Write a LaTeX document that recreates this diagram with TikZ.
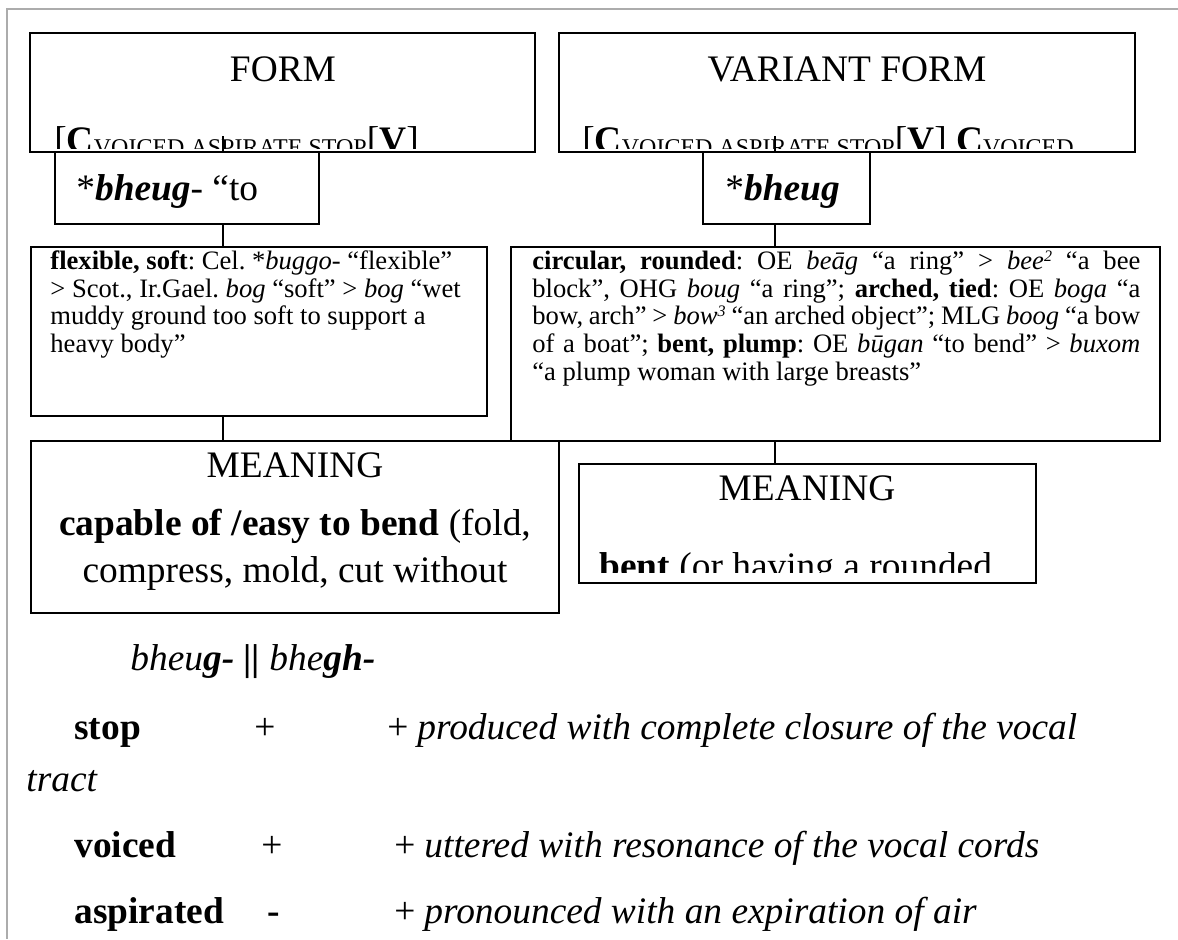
\documentclass[tikz,border=0pt]{standalone}
\usepackage{fontspec}
\setmainfont{Liberation Serif}
\usetikzlibrary{fit}
\frenchspacing
\newcommand{\bigtxt}{\fontsize{18.7}{21.5}\selectfont}
\newcommand{\smalltxt}{\fontsize{13.3}{13.85}\selectfont\lineskiplimit=-10pt}
\newcommand{\subcap}[1]{\raisebox{-1.5pt}{\fontsize{12}{14}\selectfont #1}}
\newcommand{\supnum}[1]{\raisebox{4pt}{\fontsize{8}{8}\selectfont #1}}
\tikzset{
  box/.style={draw, line width=1pt, inner sep=0pt},
  link/.style={line width=1pt},
  frameline/.style={draw=gray!65, line width=1pt},
  big/.style={font=\bigtxt, inner sep=0pt},
  small/.style={font=\smalltxt, inner sep=0pt, align=left}
}

\begin{document}
\begin{tikzpicture}[x=0.5pt, y=-0.5pt]
\useasboundingbox (0,0) rectangle (1178,939);
\draw[frameline] (1178,9) -- (7,9) -- (7,939);

% boxes
\node[box, fit={(30,33) (535,152)}] (form) {};
\node[box, fit={(559,33) (1135,152)}] (varform) {};
\node[box, fit={(55,152) (319,224)}] (rootL) {};
\node[box, fit={(703,152) (870,224)}] (rootR) {};
\node[box, fit={(31,247) (487,416)}] (glossL) {};
\node[box, fit={(511,247) (1160,441)}] (glossR) {};
\node[box, fit={(31,441) (559,613)}] (meanL) {};
\node[box, fit={(579,464) (1036,583)}] (meanR) {};

% texts in boxes
\node[big, anchor=base] (formtitle) at (283,81) {FORM};
\node[big, anchor=base] (vartitle) at (847,81) {VARIANT FORM};
\begin{scope}
\clip (30,33) rectangle (1135,148);
\node[big, anchor=base west] (formrule) at (54,152) {[\textbf{C}\subcap{VOICED ASPIRATE STOP}[\textbf{V}]};
\node[big, anchor=base west] (varrule) at (582,152) {[\textbf{C}\subcap{VOICED ASPIRATE STOP}[\textbf{V}] \textbf{C}\subcap{VOICED}};
\end{scope}
\node[big, anchor=base west] (rootLtext) at (76,200) {*\textbf{\textit{bheug}}- “to};
\node[big, anchor=base west] (rootRtext) at (725,200) {*\textbf{\textit{bheug}}};

\node[small, anchor=north west] (glossLtext) at (50,245) {\rule{0pt}{12pt}\textbf{flexible, soft}: Cel. *\textit{buggo}- “flexible”\\
> Scot., Ir.Gael. \textit{bog} “soft” > \textit{bog} “wet\\
muddy ground too soft to support a\\
heavy body”};
\node[small, anchor=north west] (glossRtext) at (532,245) {\rule{0pt}{12pt}\makebox[304pt][s]{\textbf{circular, rounded}: OE \textit{beāg} “a ring” > \textit{bee\supnum{2}} “a bee}\\
\makebox[304pt][s]{block”, OHG \textit{boug} “a ring”; \textbf{arched, tied}: OE \textit{boga} “a}\\
\makebox[304pt][s]{bow, arch” > \textit{bow\supnum{3}} “an arched object”; MLG \textit{boog} “a bow}\\
\makebox[304pt][s]{of a boat”; \textbf{bent, plump}: OE \textit{būgan} “to bend” > \textit{buxom}}\\
“a plump woman with large breasts”};

\node[big, anchor=base] (meanLtitle) at (295,477) {MEANING};
\node[big, anchor=base] (meanLtext) at (295,535) {\textbf{capable of /easy to bend} (fold,};
\node[big, anchor=base] (meanLmore) at (295,582) {compress, mold, cut without};
\node[big, anchor=base] (meanRtitle) at (807,500) {MEANING};
\begin{scope}
\clip (579,464) rectangle (1036,572);
\node[big, anchor=base west] (meanRtext) at (599,578) {\textbf{bent} (or having a rounded};
\end{scope}

% stems
\coordinate (stemL) at (223,136);
\coordinate (stemR) at (775,136);
\draw[link] (stemL) -- (stemL |- rootL.north);
\draw[link] (rootL.south -| stemL) -- (stemL |- glossL.north);
\draw[link] (glossL.south -| stemL) -- (stemL |- meanL.north);
\draw[link] (stemR) -- (stemR |- rootR.north);
\draw[link] (rootR.south -| stemR) -- (stemR |- glossR.north);
\draw[link] (glossR.south -| stemR) -- (stemR |- meanR.north);

% feature table
\node[big, anchor=base west] (formula) at (130,670) {\textit{bheu\textbf{g-}} \textbf{||} \textit{bhe\textbf{gh-}}};
\node[big, anchor=base west] (stopname) at (74,739) {\textbf{stop}};
\node[big, anchor=base west] (stopa) at (254,739) {+};
\node[big, anchor=base west] (stopb) at (387,739) {+};
\node[big, anchor=base west] (stopdef) at (417,739) {\textit{produced with complete closure of the vocal}};
\node[big, anchor=base west] (stopmore) at (26,791) {\textit{tract}};
\node[big, anchor=base west] (voicename) at (74,857) {\textbf{voiced}};
\node[big, anchor=base west] (voicea) at (261,857) {+};
\node[big, anchor=base west] (voiceb) at (394,857) {+};
\node[big, anchor=base west] (voicedef) at (424,857) {\textit{uttered with resonance of the vocal cords}};
\node[big, anchor=base west] (aspname) at (74,923) {\textbf{aspirated}};
\node[big, anchor=base west] (aspa) at (267,923) {\textbf{-}};
\node[big, anchor=base west] (aspb) at (394,923) {+};
\node[big, anchor=base west] (aspdef) at (424,923) {\textit{pronounced with an expiration of air}};
\end{tikzpicture}
\end{document}
